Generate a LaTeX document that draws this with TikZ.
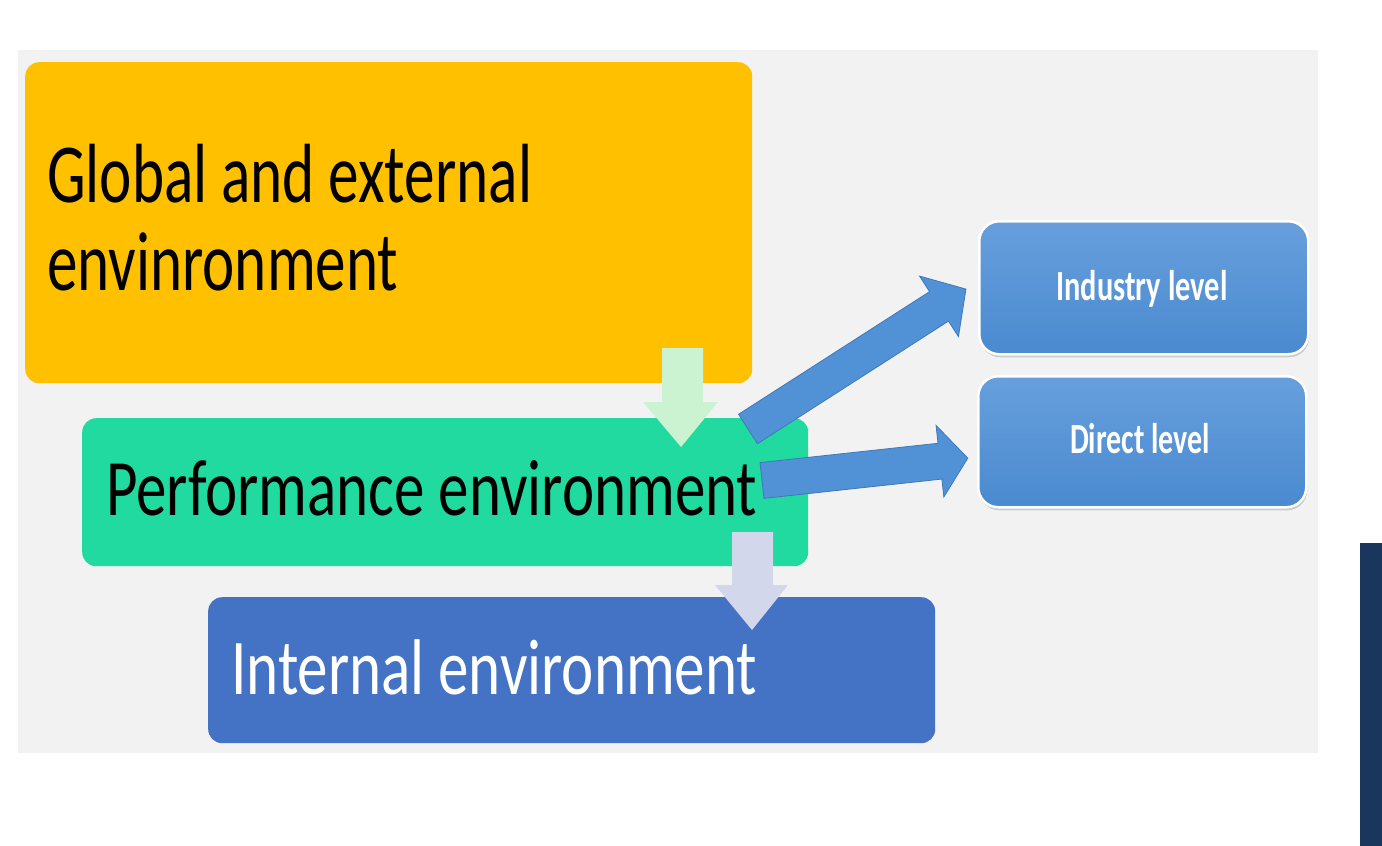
\documentclass[tikz,border=0pt]{standalone}
\usepackage{fontspec}
\usepackage{graphicx}
\setmainfont{Carlito}
\usetikzlibrary{shadows}
\definecolor{bgGray}{HTML}{F2F2F2}
\definecolor{yel}{HTML}{FFC000}
\definecolor{grn}{HTML}{20DAA0}
\definecolor{blu}{HTML}{4472C4}
\definecolor{navy}{HTML}{1B365D}
\definecolor{lvTop}{HTML}{679FDC}
\definecolor{lvBot}{HTML}{4A8AD0}
\definecolor{arrBlue}{HTML}{5192D6}
\definecolor{arrEdge}{HTML}{3F78B8}
\definecolor{paleGrn}{HTML}{CBF3D2}
\definecolor{paleLav}{HTML}{D2D7EC}
\tikzset{
  envbox/.style={inner sep=0, anchor=north west, rounded corners=14pt},
  levelbox/.style={inner sep=0, anchor=north west, rounded corners=20pt,
     top color=lvTop, bottom color=lvBot, draw=white, line width=2.5pt,
     drop shadow={shadow xshift=1pt, shadow yshift=-3pt, opacity=0.35}},
  bigtext/.style={anchor=base west, inner sep=0},
  leveltext/.style={anchor=base, inner sep=0, text=white, font=\fontsize{43}{43}\selectfont\bfseries},
  blockarrow/.style={fill=arrBlue, draw=arrEdge, line width=0.8pt, line join=miter}
}
\begin{document}
\begin{tikzpicture}[x=1pt,y=-1pt]
\useasboundingbox (0,0) rectangle (1382,846);
\fill[white] (0,0) rectangle (1382,846);
\fill[bgGray] (18,50) rectangle (1318,753);
\fill[navy] (1360,543) rectangle (1382,846);

% environment boxes
\node[envbox, fill=yel, minimum width=727pt, minimum height=321pt] (global) at (25,62) {};
\node[envbox, fill=grn, minimum width=726pt, minimum height=148pt] (perf) at (82,418) {};
\node[envbox, fill=blu, minimum width=727pt, minimum height=146pt] (internal) at (208,597) {};

% texts
\node[bigtext, font=\fontsize{84}{84}\selectfont] (t1) at (47,202) {\resizebox{485pt}{\height}{Global and external}};
\node[bigtext, font=\fontsize{84}{84}\selectfont] (t2) at (47,290) {\resizebox{351pt}{\height}{envinronment}};
\node[bigtext, font=\fontsize{80}{80}\selectfont] (t3) at (106,515) {\resizebox{651pt}{\height}{Performance environment}};
\node[bigtext, text=white, font=\fontsize{79}{79}\selectfont] (t4) at (231,694) {\resizebox{526pt}{\height}{Internal environment}};

% down arrows
\fill[paleGrn] (662,348) -- (703,348) -- (703,402) -- (718,402) -- (681,447) -- (643,402) -- (662,402) -- cycle;
\fill[paleLav] (732,532) -- (773,532) -- (773,585) -- (788,585) -- (752,630) -- (715,585) -- (732,585) -- cycle;

% level boxes
\node[levelbox, minimum width=329pt, minimum height=133pt] (industry) at (978,220) {};
\node[levelbox, minimum width=328pt, minimum height=131pt] (direct) at (977,375) {};
\node[leveltext] at (1142,300) {\resizebox{171pt}{\height}{Industry level}};
\node[leveltext] at (1140,453) {\resizebox{140pt}{\height}{Direct level}};

% block arrows
\begin{scope}[shift={(748,429)}, rotate=32.7]
\draw[blockarrow] (0,-17.5) -- (227,-17.5) -- (227,-36) -- (259,0) -- (227,36) -- (227,17.5) -- (0,17.5) -- cycle;
\end{scope}
\begin{scope}[shift={(762,480.5)}, rotate=6.2]
\draw[blockarrow] (0,-18) -- (179,-18) -- (179,-36) -- (207,0) -- (179,36) -- (179,18) -- (0,18) -- cycle;
\end{scope}
\end{tikzpicture}
\end{document}
